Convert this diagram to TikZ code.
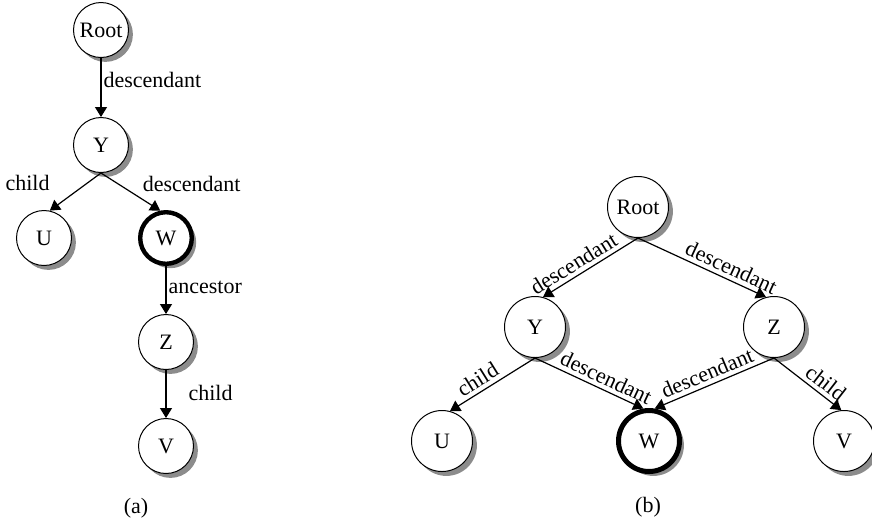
\documentclass[tikz,border=0pt]{standalone}
\usepackage{fontspec}
\setmainfont{Liberation Serif}
\usetikzlibrary{arrows.meta,shadows}

\begin{document}
\begin{tikzpicture}[x=0.5pt,y=-0.5pt,>={Triangle[length=5pt,width=6pt]},line width=0.6pt,
                    font=\fontsize{11pt}{13pt}\selectfont,
                    main node/.style={circle,draw,fill=white,inner sep=0pt,line width=0.5pt,minimum size=27.5pt,
                      drop shadow={shadow xshift=2.2pt,shadow yshift=-2.2pt,fill=black!45,opacity=1}},
                    goal node/.style={main node,line width=2.2pt,minimum size=25.8pt},
                    big node/.style={main node,minimum size=30.5pt},
                    big goal node/.style={big node,line width=2.5pt}]

    \useasboundingbox (0,0) rectangle (872,527);

    % (a)
    \node[main node] (1) at (101,30) {Root};
    \node[main node] (2) at (101,145) {Y};
    \node[main node] (3) at (44,238) {U};
    \node[goal node] (4) at (166,238) {W};
    \node[main node] (5) at (166,342) {Z};
    \node[main node] (6) at (166,446) {V};
    \node (a) at (136,508) {(a)};

    \path[->,every node/.style={inner sep=1pt}]
      (1) edge node [right,pos=0.37] {descendant} (2)
      (2.south) edge node [left=17.5pt,pos=0.27] {child} (3.78)
                edge node [right=11pt,pos=0.29] {descendant} (4.102)
      (4) edge node [right,pos=0.45] {ancestor} (5)
      (5) edge node [right=10pt,pos=0.48] {child} (6);

    % (b)
    \node[big node] (7) at (638,207) {Root};
    \node[big node] (8) at (535,327) {Y};
    \node[big node] (9) at (774,327) {Z};
    \node[big node] (10) at (442,441) {U};
    \node[big goal node] (11) at (649,441) {W};
    \node[big node] (12) at (844,441) {V};
    \node (b) at (648,507) {(b)};

    \path[->,every node/.style={sloped,above,inner sep=2pt}]
      (7.south) edge node [pos=0.61] {descendant} (8.75)
                edge node [pos=0.69] {descendant} (9.105)
      (8.south) edge node [pos=0.6] {child} (10.75)
                edge node [pos=0.61] {descendant} (11.100)
      (9.south) edge node [pos=0.52] {descendant} (11.80)
                edge node [pos=0.66] {child} (12.95);
\end{tikzpicture}
\end{document}
